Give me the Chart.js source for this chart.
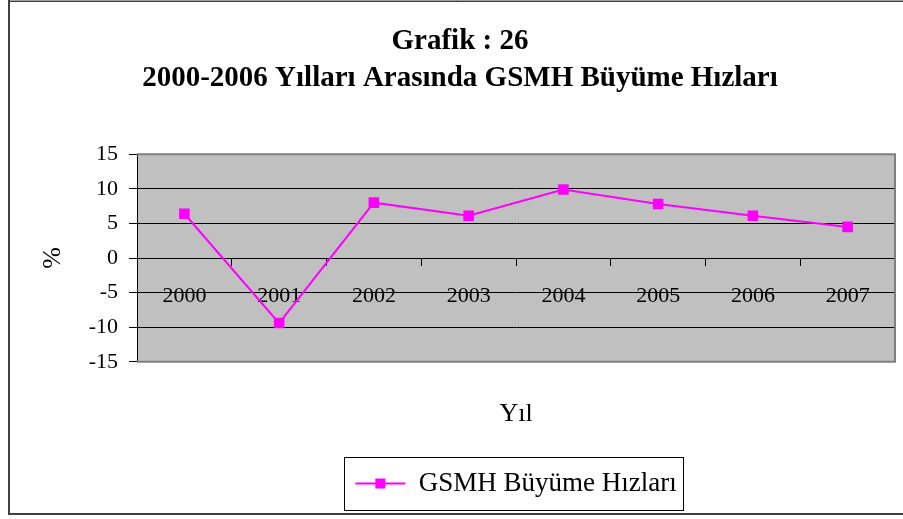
<!DOCTYPE html>
<html>
<head>
<meta charset="utf-8">
<script src="https://cdn.jsdelivr.net/npm/chart.js@4"></script>
<style>
  html, body { margin: 0; padding: 0; background: #fff; }
</style>
</head>
<body>
<canvas id="grafik" width="903" height="519"></canvas>
<script>
// grafik verileri
const yillar = ["2000", "2001", "2002", "2003", "2004", "2005", "2006", "2007"];
const buyumeHizlari = [6.4, -9.4, 8.0, 6.1, 9.9, 7.8, 6.1, 4.5];
const yEksenMin = -15;
const yEksenMax = 15;
const yEksenAdim = 5;

const baslik = ["Grafik : 26", "2000-2006 Yılları Arasında GSMH Büyüme Hızları"];
const seriAdi = "GSMH Büyüme Hızları";
const xBaslik = "Yıl";
const yBaslik = "%";

const yazi = "'Liberation Serif', 'Times New Roman', serif";
const pembe = "#FF00FF";

// lejant icin cizgi + kare isaret
const lejantIsaret = document.createElement("canvas");
lejantIsaret.width = 52;
lejantIsaret.height = 12;
{
    const c = lejantIsaret.getContext("2d");
    c.strokeStyle = pembe;
    c.lineWidth = 2;
    c.beginPath();
    c.moveTo(1, 6);
    c.lineTo(51, 6);
    c.stroke();
    c.fillStyle = pembe;
    c.fillRect(21, 1, 10, 10);
}

const cerceve = {
    id: "cerceve",
    beforeDraw(chart) {
        const ctx = chart.ctx;
        const a = chart.chartArea;
        ctx.save();
        ctx.fillStyle = "#fff";
        ctx.fillRect(0, 0, chart.width, chart.height);
        // dis cerceve
        ctx.strokeStyle = "#404040";
        ctx.lineWidth = 2;
        ctx.strokeRect(9, 1, 920, 513);
        ctx.strokeStyle = "#a0a0a0";
        ctx.lineWidth = 1;
        ctx.beginPath();
        ctx.moveTo(10, 0.5);
        ctx.lineTo(903, 0.5);
        ctx.stroke();
        // gri cizim alani
        ctx.fillStyle = "#C0C0C0";
        ctx.fillRect(a.left, a.top, a.right - a.left, a.bottom - a.top);
        ctx.restore();
    },
    beforeDatasetsDraw(chart) {
        const ctx = chart.ctx;
        const a = chart.chartArea;
        ctx.save();
        ctx.strokeStyle = "#808080";
        ctx.lineWidth = 2;
        ctx.beginPath();
        ctx.moveTo(a.left, a.top);
        ctx.lineTo(a.right, a.top);
        ctx.lineTo(a.right, a.bottom);
        ctx.lineTo(a.left, a.bottom);
        ctx.stroke();
        ctx.restore();
    },
    afterDraw(chart) {
        // lejant kutusu
        const kutu = chart.legend.legendHitBoxes[0];
        if (!kutu) return;
        const ctx = chart.ctx;
        ctx.save();
        ctx.strokeStyle = "#000";
        ctx.lineWidth = 1;
        ctx.strokeRect(Math.round(kutu.left - 11) + 0.5, Math.round(kutu.top - 13) + 0.5,
            Math.round(kutu.width + 18), Math.round(kutu.height + 26));
        ctx.restore();
    }
};

new Chart(document.getElementById("grafik").getContext("2d"), {
    type: "line",
    data: {
        labels: yillar,
        datasets: [{
            label: seriAdi,
            data: buyumeHizlari,
            borderColor: pembe,
            backgroundColor: pembe,
            borderWidth: 2,
            pointStyle: "rect",
            pointRadius: 7.5,
            pointHoverRadius: 7.5,
            pointBorderWidth: 0,
            tension: 0,
            fill: false
        }]
    },
    options: {
        responsive: false,
        devicePixelRatio: 1,
        animation: false,
        layout: { padding: { left: 25, right: 8, top: 0, bottom: 12 } },
        plugins: {
            title: {
                display: true,
                text: baslik,
                color: "#000",
                font: { family: yazi, size: 29, weight: "bold", lineHeight: 1.28 },
                padding: { top: 23, bottom: 57 }
            },
            subtitle: {
                display: true,
                text: xBaslik,
                position: "bottom",
                fullSize: false,
                weight: 900,
                color: "#000",
                font: { family: yazi, size: 26, lineHeight: 1.2 },
                padding: { top: 37, bottom: 30 }
            },
            legend: {
                position: "bottom",
                fullSize: false,
                weight: 1100,
                labels: {
                    color: "#000",
                    font: { family: yazi, size: 27 },
                    usePointStyle: true,
                    pointStyleWidth: 50,
                    padding: 10,
                    generateLabels(chart) {
                        const items = Chart.defaults.plugins.legend.labels.generateLabels(chart);
                        items.forEach(it => { it.pointStyle = lejantIsaret; });
                        return items;
                    }
                }
            },
            tooltip: { enabled: false }
        },
        scales: {
            x: {
                position: { y: 0 },
                offset: true,
                grid: { offset: true, drawOnChartArea: false, drawTicks: true, tickLength: 7, color: "#000" },
                border: { display: true, color: "#000", width: 1 },
                ticks: {
                    color: "#000",
                    font: { family: yazi, size: 22 },
                    padding: 18,
                    maxRotation: 0,
                    autoSkip: false
                }
            },
            y: {
                min: yEksenMin,
                max: yEksenMax,
                afterFit(scale) { scale.width = 112; },
                ticks: {
                    stepSize: yEksenAdim,
                    color: "#000",
                    font: { family: yazi, size: 22 },
                    padding: 11
                },
                grid: { color: "#000", lineWidth: 1, tickLength: 8 },
                border: { display: true, color: "#000", width: 1 },
                title: {
                    display: true,
                    text: yBaslik,
                    color: "#000",
                    font: { family: yazi, size: 26 },
                    padding: { top: 13, bottom: 0 }
                }
            }
        }
    },
    plugins: [cerceve]
});
</script>
</body>
</html>
